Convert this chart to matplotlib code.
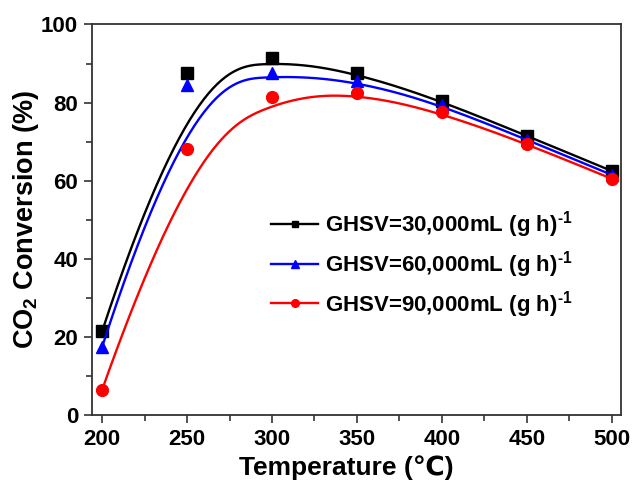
import numpy as np
import matplotlib
matplotlib.use("Agg")
import matplotlib.pyplot as plt
from matplotlib.lines import Line2D
from matplotlib.ticker import MultipleLocator

plt.rcParams['font.family'] = ['Liberation Sans', 'DejaVu Sans']
plt.rcParams['font.weight'] = 'bold'
plt.rcParams['mathtext.fontset'] = 'custom'
plt.rcParams['mathtext.rm'] = 'Liberation Sans:bold'
plt.rcParams['mathtext.bf'] = 'Liberation Sans:bold'
plt.rcParams['mathtext.default'] = 'bf'

temps = [200, 250, 300, 350, 400, 450, 500]
conv_30k = [21.5, 87.5, 91.5, 87.5, 80.5, 71.5, 62.5]
conv_60k = [17.5, 84.5, 87.5, 85.5, 79.5, 70.5, 61.5]
conv_90k = [6.5, 68.0, 81.5, 82.5, 77.5, 69.5, 60.5]
labels = [r"GHSV=30,000mL (g h)$^{\text{-1}}$",
          r"GHSV=60,000mL (g h)$^{\text{-1}}$",
          r"GHSV=90,000mL (g h)$^{\text{-1}}$"]


def bspline(px, py, degree=3, n=400):
    """Clamped B-spline with data points as control points (Origin-style B-spline connection)."""
    px = np.asarray(px, float)
    py = np.asarray(py, float)
    m = len(px)
    inner = np.arange(1, m - degree)
    knots = np.concatenate([np.zeros(degree + 1), inner, np.full(degree + 1, m - degree)]).astype(float)
    t = np.linspace(0, m - degree, n)
    t[-1] -= 1e-9
    N = np.zeros((n, len(knots) - 1))
    for i in range(len(knots) - 1):
        N[:, i] = ((t >= knots[i]) & (t < knots[i + 1])).astype(float)
    for k in range(1, degree + 1):
        Nn = np.zeros((n, len(knots) - 1 - k))
        for i in range(len(knots) - 1 - k):
            d1 = knots[i + k] - knots[i]
            d2 = knots[i + k + 1] - knots[i + 1]
            a = (t - knots[i]) / d1 * N[:, i] if d1 > 0 else 0
            b = (knots[i + k + 1] - t) / d2 * N[:, i + 1] if d2 > 0 else 0
            Nn[:, i] = a + b
        N = Nn
    return N @ px, N @ py


fig = plt.figure(figsize=(6.32, 4.8), dpi=100)
ax = fig.add_axes([0.1456, 0.1354, 0.837, 0.8136])

styles = [('black', 's', 8, 4.5), ('blue', '^', 9, 5.5), ('red', 'o', 8.5, 5.5)]
series = [conv_30k, conv_60k, conv_90k]
handles = []
for vals, (c, m, ms, lms), lab in zip(series, styles, labels):
    bx, by = bspline(temps, vals)
    ax.plot(bx, by, color=c, lw=1.7)
    ax.plot(temps, vals, linestyle='none', marker=m, color=c, ms=ms)
    handles.append(Line2D([], [], color=c, marker=m, ms=lms, lw=1.7, label=lab))

ax.set_xlim(194, 505.5)
ax.set_ylim(0, 100)
ax.xaxis.set_major_locator(MultipleLocator(50))
ax.xaxis.set_minor_locator(MultipleLocator(25))
ax.yaxis.set_major_locator(MultipleLocator(20))
ax.yaxis.set_minor_locator(MultipleLocator(10))
ax.tick_params(which='both', direction='out', top=False, right=False, width=1.2,
               colors='#333333', labelcolor='black')
ax.tick_params(which='major', length=6, labelsize=16, pad=4)
ax.tick_params(which='minor', length=4)
for s in ax.spines.values():
    s.set_linewidth(1.3)
    s.set_color('#333333')

ax.set_xlabel('Temperature (℃)', fontsize=19, fontweight='bold', labelpad=4, x=0.48)
ax.set_ylabel('CO$_2$ Conversion (%)', fontsize=19.5, fontweight='bold', labelpad=0)

leg = ax.legend(handles=handles, loc='upper left', bbox_to_anchor=(0.322, 0.55),
                frameon=False, fontsize=16, handlelength=2.1, handletextpad=0.3,
                labelspacing=0.4, borderaxespad=0)

fig.savefig('out.png', dpi=100)
